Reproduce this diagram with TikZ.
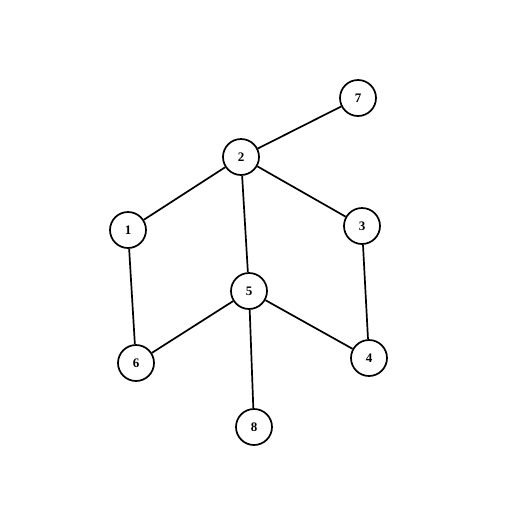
\documentclass[tikz,border=0pt]{standalone}
\usepackage{fontspec}
\setmainfont{Liberation Serif}
\begin{document}
\begin{tikzpicture}[x=1pt,y=-1pt,
  vtx/.style={circle,draw,line width=1.7pt,minimum size=36pt,inner sep=0pt,font=\fontsize{13}{15}\selectfont\bfseries},
  edge/.style={line width=1.7pt}]
\useasboundingbox (0,0) rectangle (528,528);
\node[vtx] (n7) at (358,98) {7};
\node[vtx] (n2) at (241,157) {2};
\node[vtx] (n1) at (128,230) {1};
\node[vtx] (n3) at (362,226) {3};
\node[vtx] (n5) at (249,291) {5};
\node[vtx] (n6) at (136,363) {6};
\node[vtx] (n4) at (369,358) {4};
\node[vtx] (n8) at (254,427) {8};
\draw[edge] (n7) -- (n2);
\draw[edge] (n2) -- (n1);
\draw[edge] (n2) -- (n3);
\draw[edge] (n2) -- (n5);
\draw[edge] (n1) -- (n6);
\draw[edge] (n3) -- (n4);
\draw[edge] (n5) -- (n6);
\draw[edge] (n5) -- (n4);
\draw[edge] (n5) -- (n8);
\end{tikzpicture}
\end{document}
